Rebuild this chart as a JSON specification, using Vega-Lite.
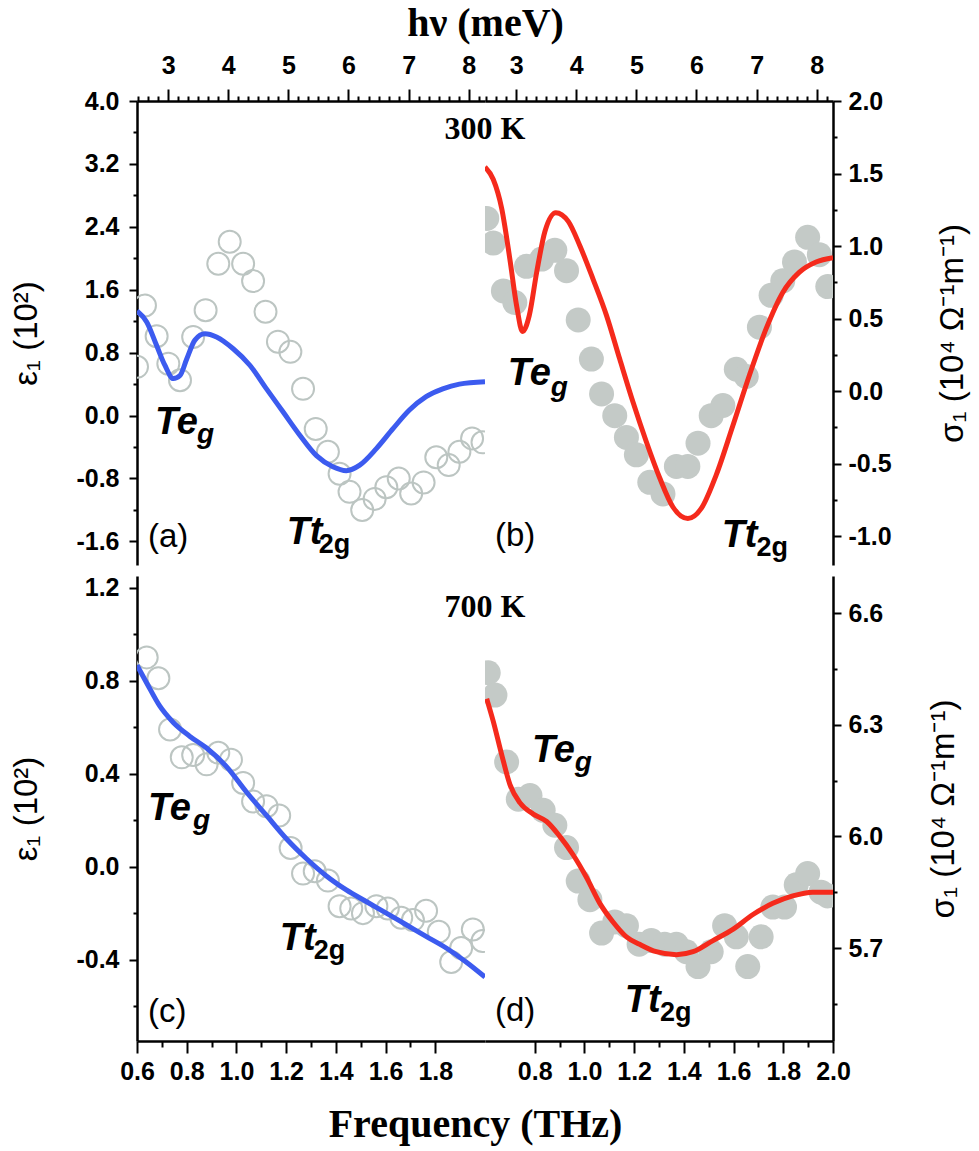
{
  "$schema": "https://vega.github.io/schema/vega-lite/v6.json",
  "background": "white",
  "padding": {"left": 10, "top": 3, "right": 5, "bottom": 5},
  "config": {
    "view": {"stroke": null},
    "axis": {
      "domainColor": "black", "domainWidth": 2.5, "tickColor": "black", "tickWidth": 2,
      "labelFont": "Liberation Sans", "labelFontWeight": "bold", "labelFontSize": 25, "labelColor": "black",
      "titleFont": "Liberation Sans", "titleFontWeight": "normal", "titleFontSize": 33, "titleColor": "black",
      "grid": false, "labelFlush": false, "labelOverlap": false
    }
  },
  "datasets": {
    "a_pts": [
      {"f":0.6,"v":0.62},{"f":0.632,"v":1.40},{"f":0.679,"v":1.01},{"f":0.726,"v":0.66},{"f":0.773,"v":0.45},
      {"f":0.826,"v":1.00},{"f":0.876,"v":1.34},{"f":0.927,"v":1.93},{"f":0.973,"v":2.21},{"f":1.027,"v":1.93},
      {"f":1.067,"v":1.71},{"f":1.117,"v":1.32},{"f":1.167,"v":0.94},{"f":1.217,"v":0.81},{"f":1.268,"v":0.34},
      {"f":1.319,"v":-0.17},{"f":1.368,"v":-0.46},{"f":1.415,"v":-0.74},{"f":1.455,"v":-0.97},{"f":1.506,"v":-1.20},
      {"f":1.556,"v":-1.06},{"f":1.603,"v":-0.91},{"f":1.653,"v":-0.80},{"f":1.703,"v":-0.99},{"f":1.753,"v":-0.85},
      {"f":1.804,"v":-0.53},{"f":1.854,"v":-0.63},{"f":1.897,"v":-0.46},{"f":1.948,"v":-0.29},{"f":1.99,"v":-0.34}
    ],
    "a_fit": [
      {"f":0.6,"v":1.33},{"f":0.639,"v":1.19},{"f":0.679,"v":0.89},{"f":0.712,"v":0.64},{"f":0.746,"v":0.47},
      {"f":0.773,"v":0.51},{"f":0.8,"v":0.72},{"f":0.833,"v":0.96},{"f":0.873,"v":1.04},{"f":0.92,"v":1.00},
      {"f":0.987,"v":0.85},{"f":1.054,"v":0.64},{"f":1.121,"v":0.34},{"f":1.188,"v":0.045},{"f":1.255,"v":-0.25},
      {"f":1.322,"v":-0.51},{"f":1.388,"v":-0.65},{"f":1.442,"v":-0.70},{"f":1.496,"v":-0.63},{"f":1.563,"v":-0.42},
      {"f":1.629,"v":-0.17},{"f":1.696,"v":0.07},{"f":1.763,"v":0.24},{"f":1.83,"v":0.34},{"f":1.897,"v":0.40},
      {"f":2.0,"v":0.43}
    ],
    "b_pts": [
      {"f":0.607,"v":1.19},{"f":0.633,"v":1.02},{"f":0.674,"v":0.69},{"f":0.72,"v":0.61},{"f":0.767,"v":0.86},
      {"f":0.828,"v":0.91},{"f":0.881,"v":0.97},{"f":0.928,"v":0.83},{"f":0.975,"v":0.49},{"f":1.028,"v":0.22},
      {"f":1.069,"v":-0.02},{"f":1.122,"v":-0.17},{"f":1.169,"v":-0.32},{"f":1.209,"v":-0.44},{"f":1.263,"v":-0.63},
      {"f":1.316,"v":-0.71},{"f":1.37,"v":-0.52},{"f":1.416,"v":-0.52},{"f":1.457,"v":-0.36},{"f":1.51,"v":-0.17},
      {"f":1.557,"v":-0.10},{"f":1.611,"v":0.15},{"f":1.651,"v":0.10},{"f":1.704,"v":0.44},{"f":1.751,"v":0.66},
      {"f":1.798,"v":0.76},{"f":1.845,"v":0.89},{"f":1.898,"v":1.06},{"f":1.945,"v":0.94},{"f":1.979,"v":0.72}
    ],
    "b_fit": [
      {"f":0.6,"v":1.545},{"f":0.633,"v":1.46},{"f":0.667,"v":1.26},{"f":0.7,"v":0.91},{"f":0.727,"v":0.59},
      {"f":0.751,"v":0.41},{"f":0.778,"v":0.52},{"f":0.808,"v":0.82},{"f":0.841,"v":1.10},{"f":0.885,"v":1.23},
      {"f":0.935,"v":1.17},{"f":0.982,"v":1.00},{"f":1.035,"v":0.77},{"f":1.089,"v":0.52},{"f":1.142,"v":0.22},
      {"f":1.196,"v":-0.08},{"f":1.249,"v":-0.35},{"f":1.303,"v":-0.60},{"f":1.356,"v":-0.80},{"f":1.416,"v":-0.88},
      {"f":1.47,"v":-0.81},{"f":1.53,"v":-0.58},{"f":1.597,"v":-0.24},{"f":1.664,"v":0.11},{"f":1.731,"v":0.43},
      {"f":1.798,"v":0.68},{"f":1.865,"v":0.82},{"f":1.932,"v":0.89},{"f":2.0,"v":0.92}
    ],
    "c_pts": [
      {"f":0.639,"v":0.90},{"f":0.686,"v":0.81},{"f":0.733,"v":0.59},{"f":0.78,"v":0.47},{"f":0.826,"v":0.48},
      {"f":0.88,"v":0.44},{"f":0.927,"v":0.49},{"f":0.978,"v":0.46},{"f":1.027,"v":0.36},{"f":1.067,"v":0.28},
      {"f":1.121,"v":0.26},{"f":1.172,"v":0.22},{"f":1.218,"v":0.08},{"f":1.268,"v":-0.03},{"f":1.315,"v":-0.02},
      {"f":1.368,"v":-0.06},{"f":1.415,"v":-0.17},{"f":1.462,"v":-0.18},{"f":1.509,"v":-0.20},{"f":1.563,"v":-0.17},
      {"f":1.609,"v":-0.18},{"f":1.663,"v":-0.22},{"f":1.71,"v":-0.23},{"f":1.763,"v":-0.19},{"f":1.814,"v":-0.28},
      {"f":1.864,"v":-0.41},{"f":1.904,"v":-0.35},{"f":1.951,"v":-0.27},{"f":1.99,"v":-0.32}
    ],
    "c_fit": [
      {"f":0.6,"v":0.866},{"f":0.639,"v":0.79},{"f":0.692,"v":0.69},{"f":0.746,"v":0.62},{"f":0.813,"v":0.56},
      {"f":0.88,"v":0.51},{"f":0.96,"v":0.43},{"f":1.041,"v":0.32},{"f":1.121,"v":0.22},{"f":1.201,"v":0.12},
      {"f":1.281,"v":0.035},{"f":1.362,"v":-0.04},{"f":1.442,"v":-0.10},{"f":1.522,"v":-0.15},{"f":1.603,"v":-0.20},
      {"f":1.683,"v":-0.25},{"f":1.763,"v":-0.30},{"f":1.844,"v":-0.35},{"f":1.924,"v":-0.41},{"f":2.0,"v":-0.475}
    ],
    "d_pts": [
      {"f":0.613,"v":6.44},{"f":0.64,"v":6.38},{"f":0.687,"v":6.20},{"f":0.734,"v":6.10},{"f":0.781,"v":6.11},
      {"f":0.834,"v":6.07},{"f":0.881,"v":6.03},{"f":0.928,"v":5.97},{"f":0.975,"v":5.88},{"f":1.022,"v":5.83},
      {"f":1.069,"v":5.74},{"f":1.122,"v":5.77},{"f":1.169,"v":5.76},{"f":1.22,"v":5.71},{"f":1.269,"v":5.72},
      {"f":1.323,"v":5.71},{"f":1.37,"v":5.71},{"f":1.41,"v":5.69},{"f":1.457,"v":5.65},{"f":1.51,"v":5.69},
      {"f":1.564,"v":5.76},{"f":1.611,"v":5.73},{"f":1.657,"v":5.65},{"f":1.711,"v":5.73},{"f":1.758,"v":5.81},
      {"f":1.805,"v":5.81},{"f":1.852,"v":5.87},{"f":1.898,"v":5.90},{"f":1.952,"v":5.85},{"f":1.979,"v":5.84}
    ],
    "d_fit": [
      {"f":0.607,"v":6.37},{"f":0.633,"v":6.31},{"f":0.667,"v":6.22},{"f":0.7,"v":6.14},{"f":0.741,"v":6.09},
      {"f":0.794,"v":6.06},{"f":0.848,"v":6.04},{"f":0.901,"v":6.00},{"f":0.955,"v":5.95},{"f":1.008,"v":5.89},
      {"f":1.062,"v":5.82},{"f":1.115,"v":5.77},{"f":1.169,"v":5.73},{"f":1.222,"v":5.71},{"f":1.289,"v":5.69},
      {"f":1.37,"v":5.682},{"f":1.437,"v":5.69},{"f":1.517,"v":5.72},{"f":1.597,"v":5.75},{"f":1.678,"v":5.79},
      {"f":1.758,"v":5.82},{"f":1.838,"v":5.84},{"f":1.918,"v":5.85},{"f":2.0,"v":5.85}
    ],
    "labels": [
      {"p":"a","k":"main","f":0.672,"v":-0.234,"t":"Te"},
      {"p":"a","k":"subi","f":0.841,"v":-0.349,"t":"g"},
      {"p":"a","k":"main","f":1.202,"v":-1.633,"t":"Tt"},
      {"p":"a","k":"sub","f":1.331,"v":-1.748,"t":"2g"},
      {"p":"a","k":"panel","f":0.644,"v":-1.55,"t":"(a)"},
      {"p":"a","k":"temp","f":2.0,"v":3.517,"t":"300 K"},
      {"p":"b","k":"main","f":0.692,"v":0.041,"t":"Te"},
      {"p":"b","k":"subi","f":0.865,"v":-0.034,"t":"g"},
      {"p":"b","k":"main","f":1.552,"v":-1.076,"t":"Tt"},
      {"p":"b","k":"sub","f":1.692,"v":-1.138,"t":"2g"},
      {"p":"b","k":"panel","f":0.64,"v":-1.0,"t":"(b)"},
      {"p":"c","k":"main","f":0.644,"v":0.201,"t":"Te"},
      {"p":"c","k":"subi","f":0.825,"v":0.162,"t":"g"},
      {"p":"c","k":"main","f":1.174,"v":-0.359,"t":"Tt"},
      {"p":"c","k":"sub","f":1.311,"v":-0.397,"t":"2g"},
      {"p":"c","k":"panel","f":0.644,"v":-0.625,"t":"(c)"},
      {"p":"c","k":"temp","f":2.0,"v":1.074,"t":"700 K"},
      {"p":"d","k":"main","f":0.789,"v":6.2,"t":"Te"},
      {"p":"d","k":"subi","f":0.961,"v":6.176,"t":"g"},
      {"p":"d","k":"main","f":1.162,"v":5.528,"t":"Tt"},
      {"p":"d","k":"sub","f":1.304,"v":5.504,"t":"2g"},
      {"p":"d","k":"panel","f":0.64,"v":5.53,"t":"(d)"}
    ],
    "mev": [{"m":2.4814},{"m":8.2714}]
  },
  "spacing": 10,
  "vconcat": [
    {
      "spacing": 0,
      "bounds": "flush",
      "hconcat": [
        {
          "width": 348, "height": 464,
          "resolve": {"scale": {"x": "independent"}},
          "layer": [
            {
              "encoding": {
                "x": {"field": "f", "type": "quantitative", "scale": {"domain": [0.6, 2.0], "nice": false, "zero": false}, "axis": null},
                "y": {"field": "v", "type": "quantitative", "scale": {"domain": [-1.9, 4.0], "nice": false, "zero": false},
                  "axis": {"orient": "left", "title": "ε₁  (10²)", "titlePadding": 32,
                    "values": [-1.6,-1.2,-0.8,-0.4,0,0.4,0.8,1.2,1.6,2.0,2.4,2.8,3.2,3.6,4.0],
                    "format": ".1f",
                    "labelExpr": "abs(datum.value*1.25 - round(datum.value*1.25)) < 0.001 ? replace(datum.label, '\u2212', '-') : ''",
                    "tickSize": {"condition": {"test": "abs(datum.value*1.25 - round(datum.value*1.25)) < 0.001", "value": 8}, "value": 4},
                    "labelPadding": 10}}
              },
              "layer": [
                {"data": {"name": "a_pts"}, "mark": {"type": "point", "shape": "circle", "filled": false, "size": 484, "strokeWidth": 2, "color": "#bcc5c2", "opacity": 1, "clip": true}},
                {"data": {"name": "a_fit"}, "mark": {"type": "line", "interpolate": "monotone", "strokeWidth": 5, "color": "#3c5bef", "clip": true}},
                {"mark": {"type": "rule", "color": "#c2caca", "strokeWidth": 3}, "encoding": {"x": null, "y": {"datum": -1.9}}},
                {"mark": {"type": "rule", "color": "black", "strokeWidth": 2.5}, "encoding": {"x": {"datum": 2.0}, "y": {"datum": 3.377}, "y2": {"datum": -1.9}}},
                {"data": {"name": "labels"}, "transform": [{"filter": "datum.p == 'a' && datum.k == 'main'"}], "mark": {"type": "text", "font": "Liberation Sans", "fontWeight": "bold", "fontStyle": "italic", "fontSize": 38, "align": "left", "baseline": "alphabetic", "color": "black"}, "encoding": {"text": {"field": "t"}}},
                {"data": {"name": "labels"}, "transform": [{"filter": "datum.p == 'a' && datum.k == 'subi'"}], "mark": {"type": "text", "font": "Liberation Sans", "fontWeight": "bold", "fontStyle": "italic", "fontSize": 28, "align": "left", "baseline": "alphabetic", "color": "black"}, "encoding": {"text": {"field": "t"}}},
                {"data": {"name": "labels"}, "transform": [{"filter": "datum.p == 'a' && datum.k == 'sub'"}], "mark": {"type": "text", "font": "Liberation Sans", "fontWeight": "bold", "fontSize": 27, "align": "left", "baseline": "alphabetic", "color": "black"}, "encoding": {"text": {"field": "t"}}},
                {"data": {"name": "labels"}, "transform": [{"filter": "datum.p == 'a' && datum.k == 'panel'"}], "mark": {"type": "text", "font": "Liberation Sans", "fontSize": 33, "align": "left", "baseline": "middle", "color": "black"}, "encoding": {"text": {"field": "t"}}},
                {"data": {"name": "labels"}, "transform": [{"filter": "datum.p == 'a' && datum.k == 'temp'"}], "mark": {"type": "text", "font": "Liberation Serif", "fontWeight": "bold", "fontSize": 32, "align": "center", "baseline": "alphabetic", "color": "black"}, "encoding": {"text": {"field": "t"}}}
              ]
            },
            {
              "data": {"name": "mev"},
              "mark": {"type": "point", "opacity": 0},
              "encoding": {
                "x": {"field": "m", "type": "quantitative", "scale": {"domain": [2.4814, 8.2714], "nice": false, "zero": false},
                  "axis": {"orient": "top", "title": "hν (meV)", "titleX": 348, "titleY": -66, "titleAlign": "center", "titleBaseline": "alphabetic",
                    "titleFont": "Liberation Serif", "titleFontWeight": "bold", "titleFontSize": 40, "titleAngle": 0,
                    "values": [2.5,2.6667,2.8333,3,3.1667,3.3333,3.5,3.6667,3.8333,4,4.1667,4.3333,4.5,4.6667,4.8333,5,5.1667,5.3333,5.5,5.6667,5.8333,6,6.1667,6.3333,6.5,6.6667,6.8333,7,7.1667,7.3333,7.5,7.6667,7.8333,8,8.1667],
                    "labelExpr": "abs(datum.value - round(datum.value)) < 0.01 ? format(datum.value, 'd') : ''",
                    "tickSize": {"condition": {"test": "abs(datum.value - round(datum.value)) < 0.01", "value": 12}, "value": 5},
                    "labelPadding": 11}}
              }
            }
          ]
        },
        {
          "width": 348, "height": 464,
          "resolve": {"scale": {"x": "independent"}},
          "layer": [
            {
              "encoding": {
                "x": {"field": "f", "type": "quantitative", "scale": {"domain": [0.6, 2.0], "nice": false, "zero": false}, "axis": null},
                "y": {"field": "v", "type": "quantitative", "scale": {"domain": [-1.2, 2.0], "nice": false, "zero": false},
                  "axis": {"orient": "right", "title": "σ₁  (10⁴ Ω⁻¹m⁻¹)", "titlePadding": 45, "titleAngle": 270, "titleBaseline": "top",
                    "values": [-1.0,-0.75,-0.5,-0.25,0,0.25,0.5,0.75,1.0,1.25,1.5,1.75,2.0],
                    "format": ".1f",
                    "labelExpr": "abs(datum.value*2 - round(datum.value*2)) < 0.001 ? replace(datum.label, '\u2212', '-') : ''",
                    "tickSize": {"condition": {"test": "abs(datum.value*2 - round(datum.value*2)) < 0.001", "value": 8}, "value": 4},
                    "labelPadding": 7}}
              },
              "layer": [
                {"data": {"name": "b_pts"}, "mark": {"type": "point", "shape": "circle", "filled": true, "size": 625, "color": "#c4cac7", "opacity": 1, "clip": true}},
                {"data": {"name": "b_fit"}, "mark": {"type": "line", "interpolate": "monotone", "strokeWidth": 5, "color": "#f52a1c", "clip": true}},
                {"mark": {"type": "rule", "color": "#c2caca", "strokeWidth": 3}, "encoding": {"x": null, "y": {"datum": -1.2}}},
                {"data": {"name": "labels"}, "transform": [{"filter": "datum.p == 'b' && datum.k == 'main'"}], "mark": {"type": "text", "font": "Liberation Sans", "fontWeight": "bold", "fontStyle": "italic", "fontSize": 38, "align": "left", "baseline": "alphabetic", "color": "black"}, "encoding": {"text": {"field": "t"}}},
                {"data": {"name": "labels"}, "transform": [{"filter": "datum.p == 'b' && datum.k == 'subi'"}], "mark": {"type": "text", "font": "Liberation Sans", "fontWeight": "bold", "fontStyle": "italic", "fontSize": 28, "align": "left", "baseline": "alphabetic", "color": "black"}, "encoding": {"text": {"field": "t"}}},
                {"data": {"name": "labels"}, "transform": [{"filter": "datum.p == 'b' && datum.k == 'sub'"}], "mark": {"type": "text", "font": "Liberation Sans", "fontWeight": "bold", "fontSize": 27, "align": "left", "baseline": "alphabetic", "color": "black"}, "encoding": {"text": {"field": "t"}}},
                {"data": {"name": "labels"}, "transform": [{"filter": "datum.p == 'b' && datum.k == 'panel'"}], "mark": {"type": "text", "font": "Liberation Sans", "fontSize": 33, "align": "left", "baseline": "middle", "color": "black"}, "encoding": {"text": {"field": "t"}}}
              ]
            },
            {
              "data": {"name": "mev"},
              "mark": {"type": "point", "opacity": 0},
              "encoding": {
                "x": {"field": "m", "type": "quantitative", "scale": {"domain": [2.4814, 8.2714], "nice": false, "zero": false},
                  "axis": {"orient": "top", "title": null,
                    "values": [2.5,2.6667,2.8333,3,3.1667,3.3333,3.5,3.6667,3.8333,4,4.1667,4.3333,4.5,4.6667,4.8333,5,5.1667,5.3333,5.5,5.6667,5.8333,6,6.1667,6.3333,6.5,6.6667,6.8333,7,7.1667,7.3333,7.5,7.6667,7.8333,8,8.1667],
                    "labelExpr": "abs(datum.value - round(datum.value)) < 0.01 ? format(datum.value, 'd') : ''",
                    "tickSize": {"condition": {"test": "abs(datum.value - round(datum.value)) < 0.01", "value": 12}, "value": 5},
                    "labelPadding": 11}}
              }
            }
          ]
        }
      ]
    },
    {
      "spacing": 0,
      "bounds": "flush",
      "hconcat": [
        {
          "width": 348, "height": 465,
          "encoding": {
            "x": {"field": "f", "type": "quantitative", "scale": {"domain": [0.6, 2.0], "nice": false, "zero": false},
              "axis": {"orient": "bottom", "title": "Frequency (THz)", "titleX": 338, "titleY": 95, "titleAlign": "center", "titleBaseline": "alphabetic",
                "titleFont": "Liberation Serif", "titleFontWeight": "bold", "titleFontSize": 40,
                "values": [0.6,0.7,0.8,0.9,1.0,1.1,1.2,1.3,1.4,1.5,1.6,1.7,1.8],
                "format": ".1f",
                "labelExpr": "abs(datum.value*5 - round(datum.value*5)) < 0.001 ? datum.label : ''",
                "tickSize": {"condition": {"test": "abs(datum.value*5 - round(datum.value*5)) < 0.001", "value": 12}, "value": 6},
                "labelPadding": 6}},
            "y": {"field": "v", "type": "quantitative", "scale": {"domain": [-0.75, 1.25], "nice": false, "zero": false},
              "axis": {"orient": "left", "title": "ε₁  (10²)", "titlePadding": 32,
                "values": [-0.6,-0.4,-0.2,0,0.2,0.4,0.6,0.8,1.0,1.2],
                "format": ".1f",
                "labelExpr": "abs(datum.value*2.5 - round(datum.value*2.5)) < 0.001 ? replace(datum.label, '\u2212', '-') : ''",
                "tickSize": {"condition": {"test": "abs(datum.value*2.5 - round(datum.value*2.5)) < 0.001", "value": 8}, "value": 4},
                "labelPadding": 10}}
          },
          "layer": [
            {"data": {"name": "c_pts"}, "mark": {"type": "point", "shape": "circle", "filled": false, "size": 484, "strokeWidth": 2, "color": "#bcc5c2", "opacity": 1, "clip": true}},
            {"data": {"name": "c_fit"}, "mark": {"type": "line", "interpolate": "monotone", "strokeWidth": 5, "color": "#3c5bef", "clip": true}},
            {"mark": {"type": "rule", "color": "#c2caca", "strokeWidth": 3}, "encoding": {"x": null, "y": {"datum": 1.25}}},
            {"mark": {"type": "rule", "color": "black", "strokeWidth": 2.5}, "encoding": {"x": {"datum": 2.0}, "y": {"datum": 1.018}, "y2": {"datum": -0.75}}},
            {"data": {"name": "labels"}, "transform": [{"filter": "datum.p == 'c' && datum.k == 'main'"}], "mark": {"type": "text", "font": "Liberation Sans", "fontWeight": "bold", "fontStyle": "italic", "fontSize": 38, "align": "left", "baseline": "alphabetic", "color": "black"}, "encoding": {"text": {"field": "t"}}},
            {"data": {"name": "labels"}, "transform": [{"filter": "datum.p == 'c' && datum.k == 'subi'"}], "mark": {"type": "text", "font": "Liberation Sans", "fontWeight": "bold", "fontStyle": "italic", "fontSize": 28, "align": "left", "baseline": "alphabetic", "color": "black"}, "encoding": {"text": {"field": "t"}}},
            {"data": {"name": "labels"}, "transform": [{"filter": "datum.p == 'c' && datum.k == 'sub'"}], "mark": {"type": "text", "font": "Liberation Sans", "fontWeight": "bold", "fontSize": 27, "align": "left", "baseline": "alphabetic", "color": "black"}, "encoding": {"text": {"field": "t"}}},
            {"data": {"name": "labels"}, "transform": [{"filter": "datum.p == 'c' && datum.k == 'panel'"}], "mark": {"type": "text", "font": "Liberation Sans", "fontSize": 33, "align": "left", "baseline": "middle", "color": "black"}, "encoding": {"text": {"field": "t"}}},
            {"data": {"name": "labels"}, "transform": [{"filter": "datum.p == 'c' && datum.k == 'temp'"}], "mark": {"type": "text", "font": "Liberation Serif", "fontWeight": "bold", "fontSize": 32, "align": "center", "baseline": "alphabetic", "color": "black"}, "encoding": {"text": {"field": "t"}}}
          ]
        },
        {
          "width": 348, "height": 465,
          "encoding": {
            "x": {"field": "f", "type": "quantitative", "scale": {"domain": [0.6, 2.0], "nice": false, "zero": false},
              "axis": {"orient": "bottom", "title": null,
                "values": [0.8,0.9,1.0,1.1,1.2,1.3,1.4,1.5,1.6,1.7,1.8,1.9,2.0],
                "format": ".1f",
                "labelExpr": "abs(datum.value*5 - round(datum.value*5)) < 0.001 ? datum.label : ''",
                "tickSize": {"condition": {"test": "abs(datum.value*5 - round(datum.value*5)) < 0.001", "value": 12}, "value": 6},
                "labelPadding": 6}},
            "y": {"field": "v", "type": "quantitative", "scale": {"domain": [5.45, 6.7], "nice": false, "zero": false},
              "axis": {"orient": "right", "title": "σ₁  (10⁴ Ω⁻¹m⁻¹)", "titlePadding": 45, "titleAngle": 270, "titleBaseline": "top",
                "values": [5.55,5.7,5.85,6.0,6.15,6.3,6.45,6.6],
                "format": ".1f",
                "labelExpr": "abs(datum.value*10/3 - round(datum.value*10/3)) < 0.01 ? datum.label : ''",
                "tickSize": {"condition": {"test": "abs(datum.value*10/3 - round(datum.value*10/3)) < 0.01", "value": 8}, "value": 4},
                "labelPadding": 7}}
          },
          "layer": [
            {"data": {"name": "d_pts"}, "mark": {"type": "point", "shape": "circle", "filled": true, "size": 625, "color": "#c4cac7", "opacity": 1, "clip": true}},
            {"data": {"name": "d_fit"}, "mark": {"type": "line", "interpolate": "monotone", "strokeWidth": 5, "color": "#f52a1c", "clip": true}},
            {"mark": {"type": "rule", "color": "#c2caca", "strokeWidth": 3}, "encoding": {"x": null, "y": {"datum": 6.7}}},
            {"data": {"name": "labels"}, "transform": [{"filter": "datum.p == 'd' && datum.k == 'main'"}], "mark": {"type": "text", "font": "Liberation Sans", "fontWeight": "bold", "fontStyle": "italic", "fontSize": 38, "align": "left", "baseline": "alphabetic", "color": "black"}, "encoding": {"text": {"field": "t"}}},
            {"data": {"name": "labels"}, "transform": [{"filter": "datum.p == 'd' && datum.k == 'subi'"}], "mark": {"type": "text", "font": "Liberation Sans", "fontWeight": "bold", "fontStyle": "italic", "fontSize": 28, "align": "left", "baseline": "alphabetic", "color": "black"}, "encoding": {"text": {"field": "t"}}},
            {"data": {"name": "labels"}, "transform": [{"filter": "datum.p == 'd' && datum.k == 'sub'"}], "mark": {"type": "text", "font": "Liberation Sans", "fontWeight": "bold", "fontSize": 27, "align": "left", "baseline": "alphabetic", "color": "black"}, "encoding": {"text": {"field": "t"}}},
            {"data": {"name": "labels"}, "transform": [{"filter": "datum.p == 'd' && datum.k == 'panel'"}], "mark": {"type": "text", "font": "Liberation Sans", "fontSize": 33, "align": "left", "baseline": "middle", "color": "black"}, "encoding": {"text": {"field": "t"}}}
          ]
        }
      ]
    }
  ]
}
